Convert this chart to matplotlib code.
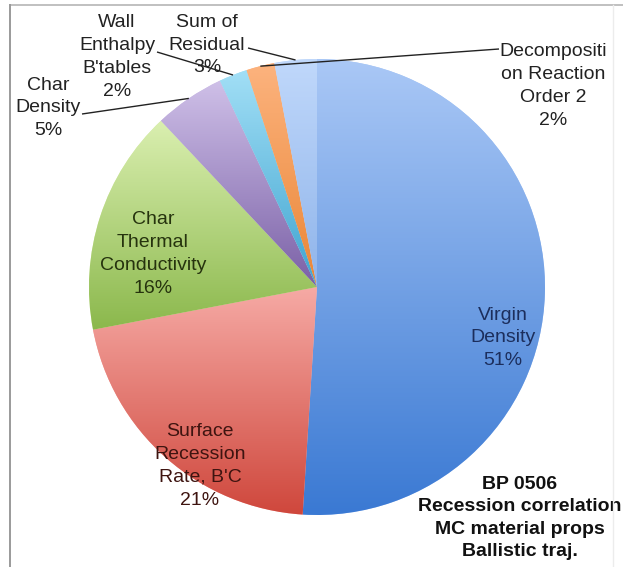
import numpy as np
import matplotlib
matplotlib.use("Agg")
import matplotlib.pyplot as plt
from matplotlib.colors import LinearSegmentedColormap

# ---- data ----
categories = ["Virgin\nDensity", "Surface\nRecession\nRate, B'C", "Char\nThermal\nConductivity",
              "Char\nDensity", "Wall\nEnthalpy\nB'tables", "Decompositi\non Reaction\nOrder 2",
              "Sum of\nResidual"]
values = [51, 21, 16, 5, 2, 2, 3]
note_lines = ["BP 0506", "Recession correlation", "MC material props", "Ballistic traj."]

# gradient colours (top, bottom) per slice
grad_top = ["#AAC8F6", "#F6AAA5", "#DAEFB0", "#CFC0E8", "#A2DFF6", "#FCB37E", "#C0D8FB"]
grad_bot = ["#3A79D3", "#CF473C", "#8BB84C", "#7A60A6", "#3FA4D0", "#EA8636", "#8FB4EA"]
text_cols = ["#1C2E5C", "#3E1410", "#26330E", "#222222", "#222222", "#222222", "#222222"]

W, H = 623, 567
CX, CY, R = 317, 287, 228

plt.rcParams['font.family'] = ['Liberation Sans', 'DejaVu Sans']

fig = plt.figure(figsize=(W / 100, H / 100), dpi=100)
ax = fig.add_axes([0, 0, 1, 1])
ax.set_xlim(-CX / R, (W - CX) / R)
ax.set_ylim(-(H - CY) / R, CY / R)
ax.set_aspect('auto')
ax.axis('off')


def px(x, y):
    return ((x - CX) / R, (CY - y) / R)


wedges, _ = ax.pie(values, startangle=90, counterclock=False, radius=1.0,
                   colors=grad_top, wedgeprops=dict(linewidth=0))

# gradient fill inside each wedge
for w, ct, cb in zip(wedges, grad_top, grad_bot):
    th = np.radians(np.linspace(w.theta1, w.theta2, 100))
    ys = np.concatenate([np.sin(th), [0.0]])
    y0, y1 = ys.min(), ys.max()
    cmap = LinearSegmentedColormap.from_list("g", [cb, ct])
    grad = np.linspace(0, 1, 256).reshape(-1, 1)
    im = ax.imshow(grad, cmap=cmap, origin='lower', extent=[-1, 1, y0, y1],
                   aspect='auto', interpolation='bicubic', zorder=2)
    im.set_clip_path(w)
ax.set_xlim(-CX / R, (W - CX) / R)
ax.set_ylim(-(H - CY) / R, CY / R)

fs = 14
ls = 1.45
# inside labels
inside_pos = {0: (503, 338), 1: (200, 466), 2: (153, 254)}
for i, (xp, yp) in inside_pos.items():
    ax.text(*px(xp, yp), f"{categories[i]}\n{values[i]}%", ha='center', va='center',
            fontsize=fs, color=text_cols[i], linespacing=ls, zorder=5)

# outside labels with leader lines
outside = {
    3: ((48, 108), (82, 114)),
    4: ((117, 57), (157, 52)),
    6: ((207, 45), (248, 48)),
    5: ((553, 86), (499, 49)),
}
for i, (lab, start) in outside.items():
    ax.text(*px(*lab), f"{categories[i]}\n{values[i]}%", ha='center', va='center',
            fontsize=fs, color=text_cols[i], linespacing=ls, zorder=5)
    w = wedges[i]
    mid = np.radians((w.theta1 + w.theta2) / 2)
    end = (np.cos(mid) * 1.0, np.sin(mid) * 1.0)
    sx, sy = px(*start)
    ax.plot([sx, end[0]], [sy, end[1]], color='#222222', lw=1.0, zorder=6,
            solid_capstyle='butt')

# note text
ax.text(*px(520, 518), "\n".join(note_lines), ha='center', va='center',
        fontsize=fs, fontweight='bold', color='#111111', linespacing=1.42, zorder=5)

# frame lines
fig.add_artist(plt.Line2D([10 / W, 1], [1 - 5 / H, 1 - 5 / H], color='#b5b5b5', lw=1.2))
fig.add_artist(plt.Line2D([10 / W, 10 / W], [0, 1 - 5 / H], color='#9a9a9a', lw=1.4))
fig.add_artist(plt.Line2D([613 / W, 613 / W], [0, 1 - 5 / H], color='#ececec', lw=1.0))

fig.savefig("out.png", dpi=100)
